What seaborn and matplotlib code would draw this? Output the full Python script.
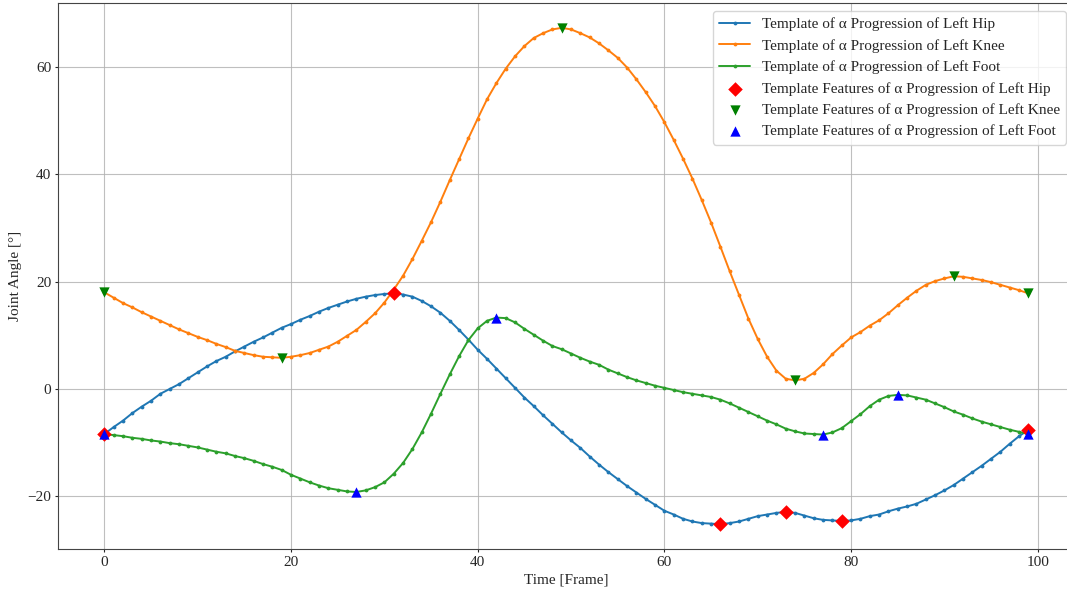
import numpy as np
import matplotlib
matplotlib.use("Agg")
import matplotlib.pyplot as plt
import seaborn as sns

frames = list(range(100))

hip = [
    -8.4, -7.1, -5.9, -4.5, -3.3, -2.2, -0.9, 0.0, 0.9, 2.0,
    3.1, 4.2, 5.2, 6.0, 7.0, 7.9, 8.8, 9.6, 10.5, 11.4,
    12.1, 12.9, 13.6, 14.4, 15.1, 15.7, 16.3, 16.8, 17.2, 17.5,
    17.7, 17.8, 17.6, 17.2, 16.4, 15.4, 14.2, 12.7, 11.0, 9.2,
    7.3, 5.6, 3.8, 2.0, 0.2, -1.6, -3.2, -4.9, -6.5, -8.1,
    -9.6, -11.0, -12.6, -14.1, -15.5, -16.8, -18.1, -19.3, -20.5, -21.6,
    -22.7, -23.4, -24.2, -24.7, -25.0, -25.1, -25.2, -25.0, -24.7, -24.2,
    -23.7, -23.4, -23.1, -22.9, -23.1, -23.6, -24.1, -24.4, -24.5, -24.6,
    -24.5, -24.2, -23.7, -23.4, -22.8, -22.3, -21.9, -21.4, -20.6, -19.8,
    -18.9, -17.9, -16.7, -15.5, -14.3, -13.0, -11.7, -10.2, -8.8, -7.6,
]

knee = [
    18.0, 17.0, 16.0, 15.2, 14.3, 13.5, 12.7, 11.9, 11.1, 10.4,
    9.7, 9.1, 8.4, 7.8, 7.1, 6.7, 6.3, 6.0, 5.9, 5.8,
    6.0, 6.3, 6.7, 7.3, 7.9, 8.8, 9.9, 11.0, 12.5, 14.1,
    16.1, 18.5, 21.1, 24.2, 27.6, 31.1, 34.9, 38.9, 42.8, 46.7,
    50.4, 54.0, 57.0, 59.7, 62.0, 63.9, 65.4, 66.3, 67.0, 67.3,
    67.0, 66.3, 65.5, 64.4, 63.1, 61.7, 59.9, 57.7, 55.3, 52.7,
    49.7, 46.4, 42.9, 39.2, 35.2, 31.0, 26.5, 21.9, 17.5, 13.1,
    9.3, 6.0, 3.4, 1.9, 1.6, 1.9, 3.0, 4.6, 6.5, 8.1,
    9.6, 10.6, 11.8, 12.8, 14.1, 15.6, 17.0, 18.3, 19.4, 20.1,
    20.6, 21.0, 20.9, 20.6, 20.3, 19.9, 19.4, 18.9, 18.4, 17.8,
]

foot = [
    -8.4, -8.6, -8.8, -9.1, -9.3, -9.6, -9.8, -10.1, -10.3, -10.6,
    -10.9, -11.3, -11.7, -12.0, -12.5, -12.9, -13.4, -14.0, -14.5, -15.1,
    -16.0, -16.7, -17.4, -18.0, -18.5, -18.8, -19.1, -19.2, -18.9, -18.3,
    -17.4, -15.8, -13.8, -11.2, -8.1, -4.6, -0.9, 2.7, 6.1, 9.1,
    11.3, 12.7, 13.3, 13.2, 12.4, 11.2, 10.1, 9.0, 8.0, 7.4,
    6.6, 5.8, 5.1, 4.5, 3.6, 2.9, 2.2, 1.6, 1.1, 0.6,
    0.2, -0.2, -0.6, -0.9, -1.2, -1.5, -2.0, -2.7, -3.5, -4.3,
    -5.1, -5.9, -6.6, -7.4, -7.9, -8.3, -8.4, -8.5, -8.1, -7.3,
    -6.0, -4.7, -3.2, -2.0, -1.3, -1.1, -1.2, -1.6, -2.0, -2.7,
    -3.4, -4.2, -4.8, -5.5, -6.1, -6.6, -7.1, -7.6, -8.0, -8.4,
]

# frames at which template features were detected
hip_feature_frames = [0, 31, 66, 73, 79, 99]
knee_feature_frames = [0, 19, 49, 74, 91, 99]
foot_feature_frames = [0, 27, 42, 77, 85, 99]

curve_labels = [
    "Template of α Progression of Left Hip",
    "Template of α Progression of Left Knee",
    "Template of α Progression of Left Foot",
]
feature_labels = [
    "Template Features of α Progression of Left Hip",
    "Template Features of α Progression of Left Knee",
    "Template Features of α Progression of Left Foot",
]

sns.set_style("ticks")
plt.rcParams["font.family"] = ["Liberation Serif", "DejaVu Serif"]
plt.rcParams["font.size"] = 11

fig = plt.figure(figsize=(10.67, 5.90), dpi=100)
ax = fig.add_axes([0.0545, 0.0695, 0.9527, 0.9254])

palette = sns.color_palette("tab10")
for series, color, label in zip([hip, knee, foot], palette[:3], curve_labels):
    sns.lineplot(x=frames, y=series, ax=ax, color=color, linewidth=1.4,
                 marker=".", markersize=5.5, markeredgewidth=0, label=label)

for series, idx, color, mk, label in zip(
        [hip, knee, foot],
        [hip_feature_frames, knee_feature_frames, foot_feature_frames],
        ["red", "green", "blue"], ["D", "v", "^"], feature_labels):
    sns.scatterplot(x=idx, y=[series[i] for i in idx], ax=ax, color=color,
                    marker=mk, s=55, linewidth=0, label=label, zorder=3)

ax.grid(True, color="#b0b0b0", linewidth=0.8, alpha=0.8)
ax.set_xlabel("Time [Frame]", fontsize=11, labelpad=3)
ax.set_ylabel("Joint Angle [°]", fontsize=11, labelpad=4)
ax.tick_params(labelsize=11, length=2, width=0.8, pad=3)
for s in ax.spines.values():
    s.set_color("#444444")
ax.legend(loc="upper right", fontsize=11, framealpha=0.8, edgecolor="#cccccc",
          labelspacing=0.5, handlelength=2.0, borderaxespad=0.55)

fig.savefig("out.png", dpi=100)
